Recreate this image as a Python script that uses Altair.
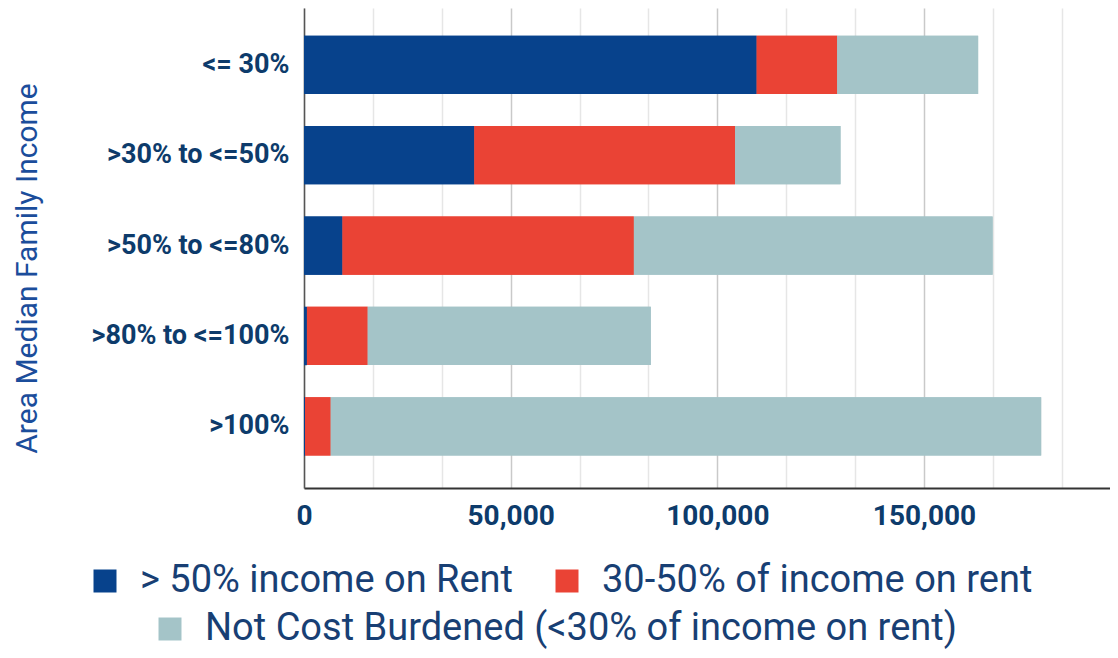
import altair as alt
import pandas as pd

categories = ["<= 30%", ">30% to <=50%", ">50% to <=80%", ">80% to <=100%", ">100%"]
series_names = [
    "> 50% income on Rent",
    "30-50% of income on rent",
    "Not Cost Burdened (<30% of income on rent)",
]
severe = [109500, 41200, 9300, 700, 250]
moderate = [19500, 63100, 70500, 14700, 6200]
not_burdened = [34100, 25500, 86800, 68500, 171900]
colors = ["#07428c", "#ea4335", "#a4c4c8"]
x_tick_values = [i * 50000 / 3 for i in range(12)]

rows = []
for i, cat in enumerate(categories):
    for j, (name, vals) in enumerate(zip(series_names, [severe, moderate, not_burdened])):
        rows.append({"income": cat, "burden": name, "households": vals[i], "order": j})
df = pd.DataFrame(rows)

LABEL_COLOR = "#0d3b6b"
TITLE_COLOR = "#1b4d9b"
LEGEND_COLOR = "#183f74"


def bars(legend):
    return alt.Chart(df).mark_bar().encode(
        y=alt.Y(
            "income:N",
            sort=categories,
            scale=alt.Scale(paddingInner=0.355, paddingOuter=0.333, align=0.46),
            axis=alt.Axis(
                title="Area Median Family Income",
                titleFont="Roboto",
                titleFontSize=30,
                titleFontWeight="normal",
                titleColor=TITLE_COLOR,
                titleX=-277,
                titleY=260,
                titleBaseline="middle",
                titleLimit=600,
                labelFont="Roboto",
                labelFontWeight="bold",
                labelFontSize=27,
                labelColor=LABEL_COLOR,
                labelPadding=15,
                labelLimit=400,
                ticks=False,
                domain=True,
                domainColor="#555555",
                domainWidth=1.5,
                grid=False,
            ),
        ),
        x=alt.X(
            "households:Q",
            stack="zero",
            scale=alt.Scale(domain=[0, 195000], nice=False, zero=True),
            axis=alt.Axis(
                title=None,
                values=x_tick_values,
                labelExpr="datum.value % 50000 === 0 ? format(datum.value, ',d') : ''",
                labelFont="Roboto",
                labelFontWeight="bold",
                labelFontSize=28,
                labelColor=LABEL_COLOR,
                labelPadding=14,
                labelFlush=False,
                labelOverlap=False,
                ticks=False,
                domain=True,
                domainColor="#333333",
                domainWidth=2,
                grid=True,
                gridWidth=1.5,
                gridColor={
                    "condition": {"test": "datum.value % 50000 === 0", "value": "#c9c9c9"},
                    "value": "#e6e6e6",
                },
            ),
        ),
        color=alt.Color(
            "burden:N",
            scale=alt.Scale(domain=series_names, range=colors),
            legend=legend,
        ),
        order=alt.Order("order:Q"),
    )


def make_legend(values, lx, ly):
    return alt.Legend(
        title=None,
        values=values,
        orient="none",
        legendX=lx,
        legendY=ly,
        direction="horizontal",
        symbolType="square",
        symbolSize=529,
        symbolStrokeWidth=0,
        symbolOpacity=1,
        labelFont="Roboto",
        labelFontSize=38,
        labelColor=LEGEND_COLOR,
        labelOffset=16,
        labelLimit=2000,
        columnPadding=34,
        padding=0,
    )


chart = (
    alt.layer(
        bars(make_legend(series_names[:2], -218, 554)),
        bars(make_legend(series_names[2:], -153, 602)),
    )
    .resolve_scale(color="independent")
    .properties(
        width=806,
        height=480,
        autosize=alt.AutoSizeParams(type="none"),
        padding={"left": 296, "top": 0, "right": 0, "bottom": 162},
        background="white",
    )
    .configure_view(stroke=None)
)

chart.save("out.html", embed_options={"renderer": "svg", "actions": False})
